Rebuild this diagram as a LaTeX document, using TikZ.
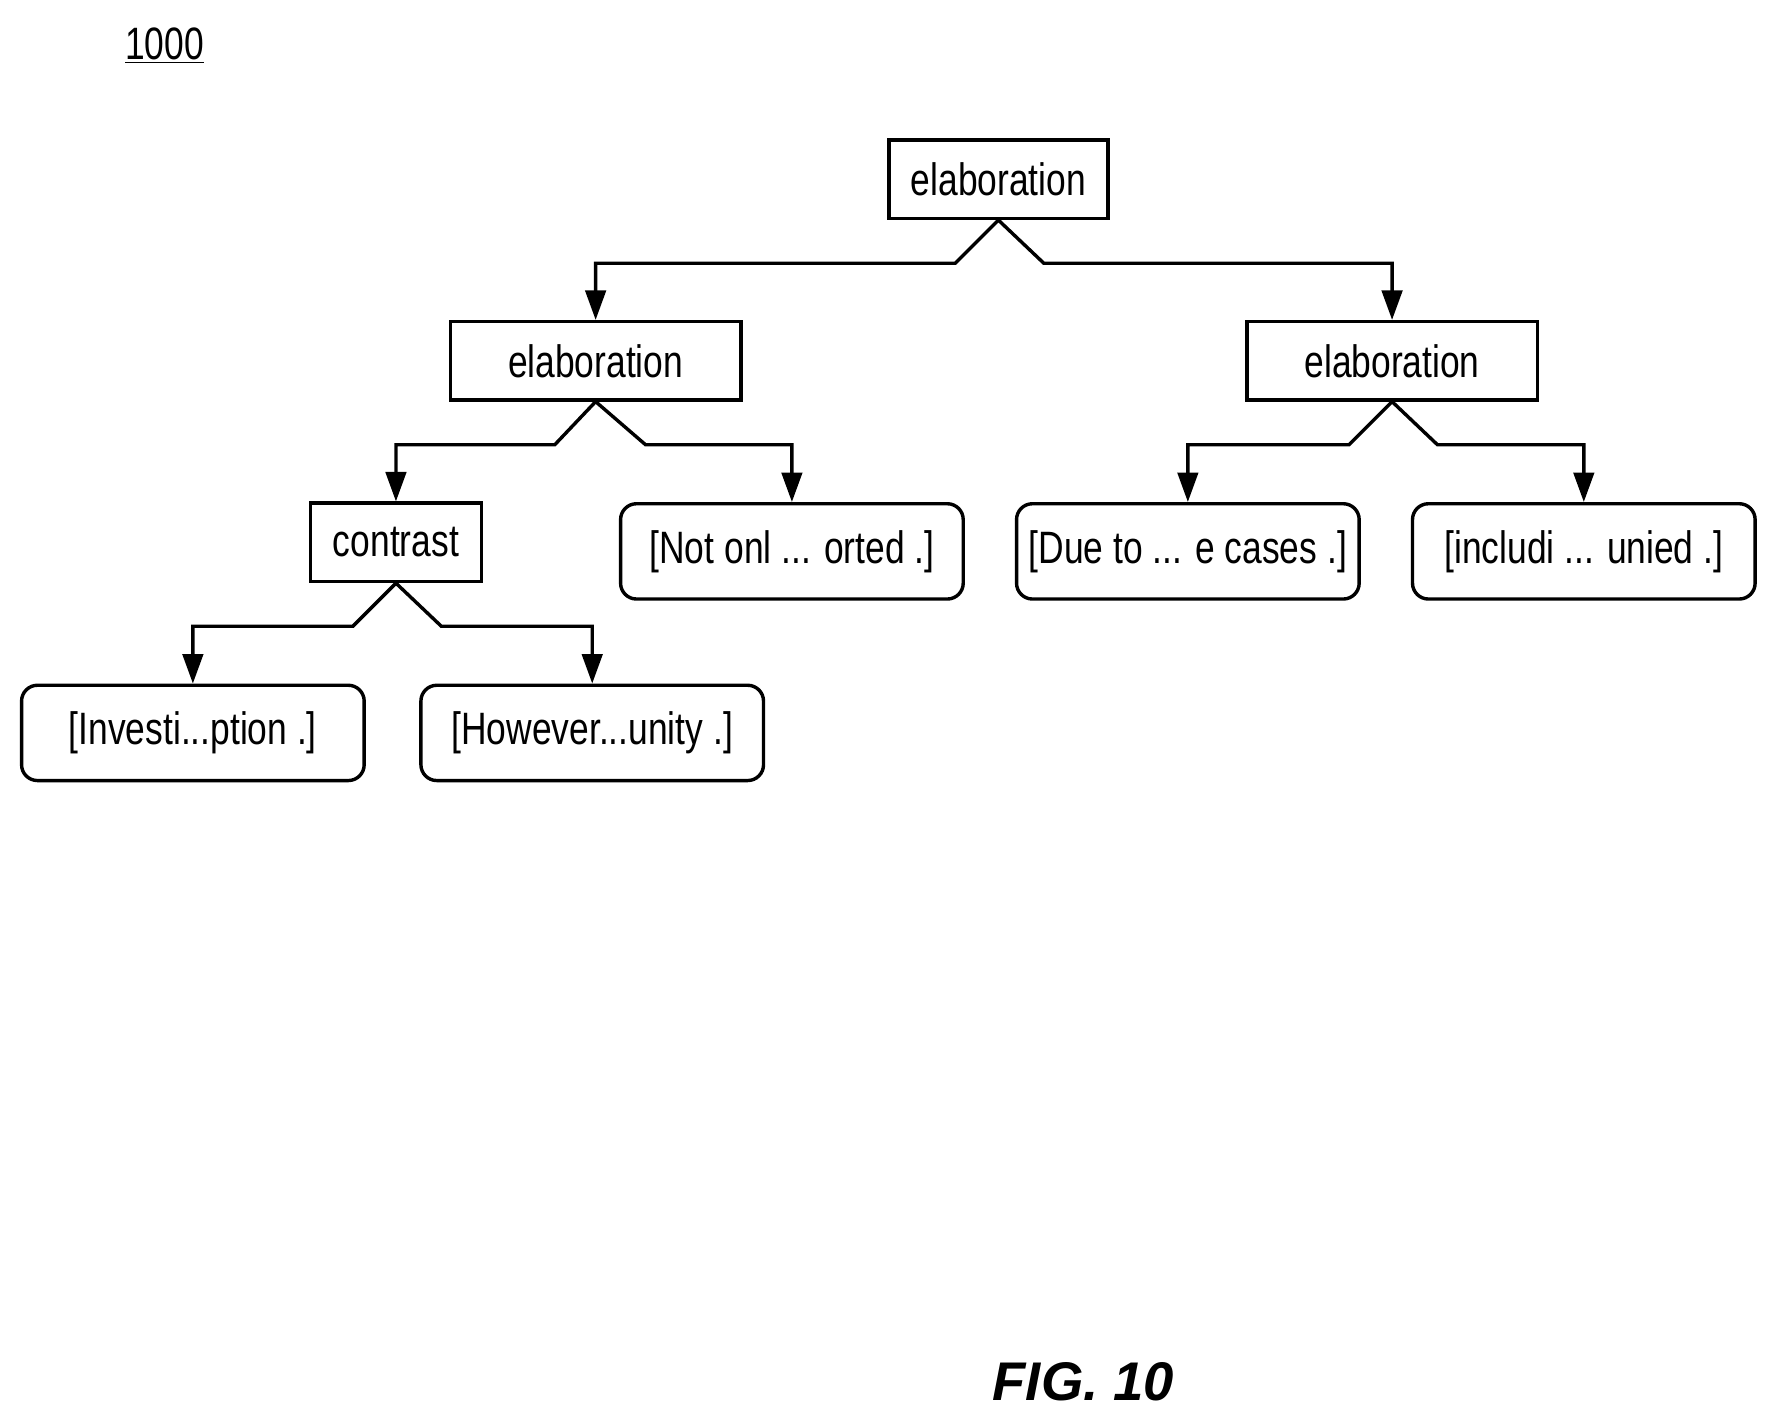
\documentclass[tikz,border=0pt]{standalone}
\usepackage{fontspec}
\setmainfont{Liberation Sans}
\newfontfamily\narrowf[FakeStretch=0.78]{Liberation Sans}
\usetikzlibrary{arrows.meta}
\begin{document}
\begin{tikzpicture}[x=1pt,y=-1pt,
  box/.style={draw,line width=3pt,minimum width=#1,minimum height=69pt,inner sep=0pt,font=\narrowf\fontsize{40}{40}\selectfont},
  leaf/.style={draw,line width=3pt,rounded corners=14pt,minimum width=302pt,minimum height=84pt,inner sep=0pt,font=\narrowf\fontsize{40}{40}\selectfont},
  conn/.style={line width=3pt,-{Triangle[length=26pt,width=18pt]}}]
\useasboundingbox (0,0) rectangle (1561,1249);
\node[box=193pt] (root) at (880,158) {elaboration};
\node[box=256pt] (L) at (525,318) {elaboration};
\node[box=256pt] (R) at (1227,318) {elaboration};
\node[box=151pt] (C) at (349,478) {contrast};
\node[leaf] (N) at (698,486) {[Not onl ... orted .]};
\node[leaf] (D) at (1047,486) {[Due to ... e cases .]};
\node[leaf] (I) at (1396,486) {[includi ... unied .]};
\node[leaf] (V) at (170,646) {[Investi...ption .]};
\node[leaf] (H) at (522,646) {[However...unity .]};
\draw[conn] (root.south) -- ++(-38,38) -| (L.north);
\draw[conn] (root.south) -- ++(40,38) -| (R.north);
\draw[conn] (L.south) -- ++(-36,38) -| (C.north);
\draw[conn] (L.south) -- ++(44,38) -| (N.north);
\draw[conn] (R.south) -- ++(-38,38) -| (D.north);
\draw[conn] (R.south) -- ++(40,38) -| (I.north);
\draw[conn] (C.south) -- ++(-38,38) -| (V.north);
\draw[conn] (C.south) -- ++(40,38) -| (H.north);
\node[font=\narrowf\fontsize{40}{40}\selectfont] (num) at (145,40) {\underline{1000}};
\node[font=\bfseries\itshape\fontsize{48}{48}\selectfont] (fig) at (955,1218) {FIG. 10};
\end{tikzpicture}
\end{document}
